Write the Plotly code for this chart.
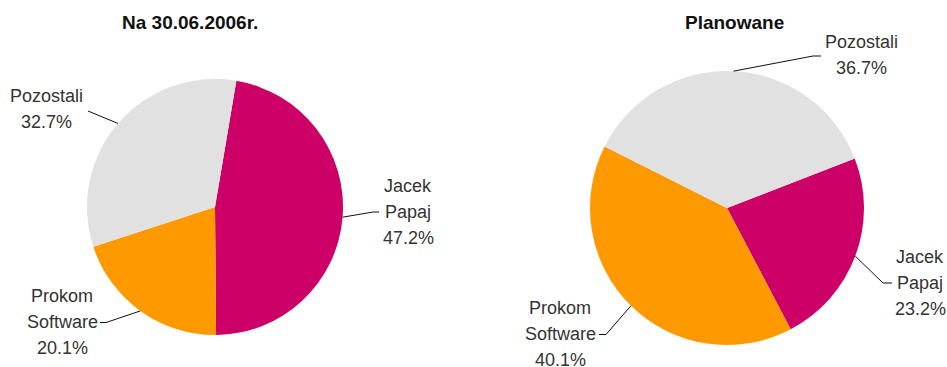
import math
import plotly.graph_objects as go

# ---------------- data ----------------
categories = ["Jacek Papaj", "Prokom Software", "Pozostali"]
label_lines = [["Jacek", "Papaj"], ["Prokom", "Software"], ["Pozostali"]]
values_2006 = [47.2, 20.1, 32.7]
values_plan = [23.2, 40.1, 36.7]
titles = ["Na 30.06.2006r.", "Planowane"]
colors = ["#CC0066", "#FF9900", "#E1E1E1"]

# ---------------- layout (pixels) ----------------
W, H = 947, 367
FONT = "Liberation Sans"
LINE_GAP = 26

charts = [
    dict(values=values_2006, title=titles[0], cx=215, cy=207, r=128, rot=9.6,
         title_xy=(190, 22),
         # per category: (text center x, y of first line center, leader points after edge)
         labels=[(408, 186, [(373, 212), (379, 212)]),
                 (62, 296, [(106, 322.5), (100, 322.5)]),
                 (46, 96, [(88, 111)])]),
    dict(values=values_plan, title=titles[1], cx=727, cy=208, r=137, rot=68.8,
         title_xy=(734, 22),
         labels=[(920, 257, [(883, 283), (892, 283)]),
                 (560, 308, [(606, 334.5), (599, 334.5)]),
                 (861, 42, [(813, 56), (821, 56)])]),
]


def px(x):
    return x / W


def py(y):
    return 1 - y / H


fig = go.Figure()
annotations = []
shapes = []

for ch in charts:
    cx, cy, r = ch["cx"], ch["cy"], ch["r"]
    fig.add_trace(go.Pie(
        labels=categories,
        values=ch["values"],
        marker=dict(colors=colors, line=dict(width=0)),
        sort=False,
        direction="clockwise",
        rotation=ch["rot"],
        textinfo="none",
        hoverinfo="label+percent",
        showlegend=False,
        domain=dict(x=[px(cx - r), px(cx + r)], y=[py(cy + r), py(cy - r)]),
    ))
    tx, ty = ch["title_xy"]
    annotations.append(dict(
        text="<b>" + ch["title"] + "</b>", x=px(tx), y=py(ty), xref="paper", yref="paper",
        xanchor="center", yanchor="middle", showarrow=False,
        font=dict(family=FONT, size=19, color="#111111")))

    total = sum(ch["values"])
    start = ch["rot"]
    for i, v in enumerate(ch["values"]):
        span = 360 * v / total
        mid = math.radians(start + span / 2)
        start += span
        ex = cx + r * math.sin(mid)
        ey = cy - r * math.cos(mid)
        lx, ly, pts = ch["labels"][i]
        lines = label_lines[i] + [f"{v:.1f}%"]
        for k, t in enumerate(lines):
            annotations.append(dict(
                text=t, x=px(lx), y=py(ly + k * LINE_GAP), xref="paper", yref="paper",
                xanchor="center", yanchor="middle", showarrow=False,
                font=dict(family=FONT, size=18, color="#333333")))
        path = f"M {px(ex)} {py(ey)}"
        for (qx, qy) in pts:
            path += f" L {px(qx)} {py(qy)}"
        shapes.append(dict(type="path", path=path, xref="paper", yref="paper",
                           line=dict(color="#111111", width=1)))

fig.update_layout(
    width=W, height=H,
    margin=dict(l=0, r=0, t=0, b=0),
    paper_bgcolor="white", plot_bgcolor="white",
    annotations=annotations, shapes=shapes,
)

fig.write_html("out.html")
